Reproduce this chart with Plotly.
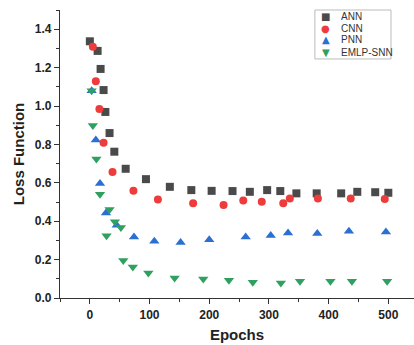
import plotly.graph_objects as go

ann_x = [0, 13, 18, 23, 26, 33, 41, 60, 94, 134, 170, 204, 239, 268, 297, 319, 346, 380, 421, 448, 478, 500]
ann_y = [1.337, 1.287, 1.193, 1.083, 0.969, 0.859, 0.762, 0.673, 0.619, 0.579, 0.562, 0.558, 0.557, 0.553, 0.562, 0.557, 0.545, 0.545, 0.545, 0.553, 0.551, 0.548]

cnn_x = [5, 10, 16, 23, 38, 73, 114, 173, 224, 257, 288, 324, 335, 382, 437, 494]
cnn_y = [1.309, 1.129, 0.984, 0.809, 0.656, 0.558, 0.513, 0.494, 0.485, 0.508, 0.501, 0.494, 0.518, 0.518, 0.518, 0.515]

pnn_x = [3, 10, 17, 27, 45, 74, 108, 152, 200, 261, 303, 332, 381, 434, 496]
pnn_y = [1.08, 0.823, 0.597, 0.443, 0.379, 0.318, 0.296, 0.289, 0.303, 0.318, 0.325, 0.339, 0.336, 0.348, 0.344]

snn_x = [3, 5, 11, 17, 28, 33, 42, 52, 56, 72, 98, 142, 190, 233, 273, 320, 352, 403, 439, 498]
snn_y = [1.08, 0.899, 0.724, 0.541, 0.324, 0.461, 0.397, 0.367, 0.195, 0.162, 0.130, 0.104, 0.099, 0.092, 0.082, 0.078, 0.087, 0.087, 0.087, 0.087]

series = [
    ("ANN", ann_x, ann_y, "square", "#4a4a4a", 8, "\u25A0"),
    ("CNN", cnn_x, cnn_y, "circle", "#ee3b3b", 8, "\u25CF"),
    ("PNN", pnn_x, pnn_y, "triangle-up", "#2a6fd4", 9, "\u25B2"),
    ("EMLP-SNN", snn_x, snn_y, "triangle-down", "#30a060", 9, "\u25BC"),
]

fig = go.Figure()
for name, xs, ys, sym, col, sz, glyph in series:
    fig.add_trace(go.Scatter(x=xs, y=ys, mode="markers", name=name, showlegend=False,
                             marker=dict(symbol=sym, size=sz, color=col, line=dict(width=0))))

# compact legend (box + glyphs + labels)
fig.add_shape(type="rect", xref="paper", yref="paper", x0=0.720, x1=0.935, y0=0.830, y1=1.0,
              line=dict(color="#bbb", width=1), fillcolor="white", layer="above")
row_y = [0.979, 0.9375, 0.896, 0.854]
for (name, xs, ys, sym, col, sz, glyph), ry in zip(series, row_y):
    fig.add_annotation(xref="paper", yref="paper", x=0.751, y=ry, text=glyph, showarrow=False,
                       font=dict(family="DejaVu Sans", size=10, color=col), xanchor="center", yanchor="middle")
    fig.add_annotation(xref="paper", yref="paper", x=0.789, y=ry, text=name, showarrow=False,
                       font=dict(family="Liberation Sans, Arial", size=10, color="#333"), xanchor="left", yanchor="middle")

axis_common = dict(
    showline=True, linecolor="#333", linewidth=1.2, mirror=False,
    showgrid=False, zeroline=False, ticks="outside", ticklen=5, tickwidth=1.2, tickcolor="#333",
    tickfont=dict(family="Liberation Sans, Arial", size=12, color="#222", weight="bold"),
)
fig.update_xaxes(range=[-50, 543], dtick=100, tick0=0,
                 minor=dict(ticks="outside", dtick=50, tick0=0, ticklen=3, tickcolor="#333"),
                 title=dict(text="Epochs", font=dict(family="Liberation Sans, Arial", size=15, color="#222", weight="bold"), standoff=8),
                 **axis_common)
fig.update_yaxes(range=[0, 1.5], dtick=0.2, tick0=0, tickformat=".1f",
                 minor=dict(ticks="outside", dtick=0.1, tick0=0, ticklen=3, tickcolor="#333"),
                 title=dict(text="Loss Function", font=dict(family="Liberation Sans, Arial", size=15, color="#222", weight="bold"), standoff=6),
                 **axis_common)

fig.update_layout(
    width=414, height=345,
    margin=dict(l=60, r=0, t=10, b=47),
    plot_bgcolor="white", paper_bgcolor="white",
    showlegend=False,
)
fig.write_html("out.html")
